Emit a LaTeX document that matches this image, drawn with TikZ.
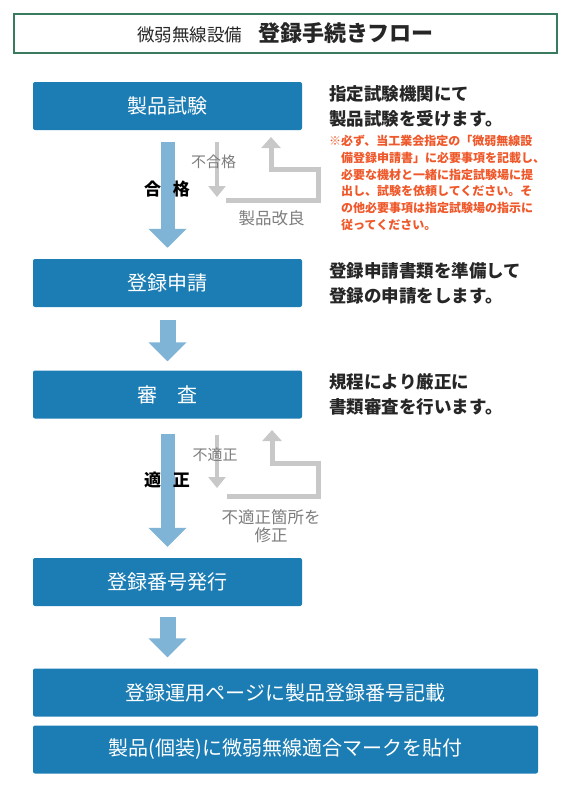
\documentclass[tikz,border=0pt]{standalone}
\usepackage{fontspec}
\newfontfamily\jp{Noto Sans CJK JP}
\usetikzlibrary{arrows.meta,positioning}
\definecolor{boxblue}{RGB}{27,125,180}
\definecolor{flowblue}{RGB}{128,180,214}
\definecolor{backgray}{RGB}{200,200,200}
\definecolor{lblgray}{RGB}{125,125,125}
\definecolor{notered}{RGB}{238,88,42}
\definecolor{titlegreen}{RGB}{58,122,94}
\tikzset{
  stepbox/.style={rectangle,rounded corners=2pt,fill=boxblue,text=white,minimum height=48pt,inner sep=0pt,font=\jp\fontsize{20}{20}\selectfont},
  desc/.style={inner sep=0pt,align=left,text=black!85,font=\jp\bfseries\fontsize{17.5}{25}\selectfont},
  chui/.style={inner sep=0pt,align=left,text=notered,font=\jp\bfseries\fontsize{12}{16.8}\selectfont},
  lbl/.style={inner sep=0pt,align=center,text=lblgray,font=\jp\fontsize{#1}{18}\selectfont},
  pass/.style={inner sep=0pt,text=black,font=\jp\bfseries\fontsize{17}{17}\selectfont},
  flow/.style={draw=flowblue,line width=#1,-{Triangle[length=19pt,width=37pt]}},
  back/.style={draw=backgray,line width=5pt,-{Triangle[length=11pt,width=19pt]}},
  down/.style={draw=backgray,line width=4pt,-{Triangle[length=11pt,width=17pt]}}
}
\begin{document}
\begin{tikzpicture}[x=1pt,y=-1pt]
\useasboundingbox (0,0) rectangle (566,788);
\node[draw=titlegreen,line width=1.2pt,minimum width=543pt,minimum height=39pt,inner sep=0pt,text=black!85,font=\jp] (title) at (285.5,33.5)
  {{\fontsize{17.5}{17.5}\selectfont 微弱無線設備}\hspace{16pt}{\bfseries\fontsize{22}{22}\selectfont 登録手続きフロー}};
\node[stepbox,minimum width=269pt] (shiken) at (167.5,106) {製品試験};
\node[stepbox,minimum width=269pt] (shinsei) at (167.5,283) {登録申請};
\node[stepbox,minimum width=269pt] (shinsa) at (167.5,394.5) {審　査};
\node[stepbox,minimum width=269pt] (bango) at (167.5,582) {登録番号発行};
\node[stepbox,minimum width=505pt] (keisai) at (285.5,692.5) {登録運用ページに製品登録番号記載};
\node[stepbox,minimum width=505pt] (mark) at (285.5,749.5) {製品(個装)に微弱無線適合マークを貼付};
\draw[flow=14pt,shorten <=12pt,shorten >=11pt] (shiken) -- (shinsei);
\draw[flow=16pt,shorten <=13pt,shorten >=9pt] (shinsei) -- (shinsa);
\draw[flow=14pt,shorten <=15pt,shorten >=11pt] (shinsa) -- (bango);
\draw[flow=16pt,shorten <=11pt,shorten >=11pt] (bango) -- (bango |- keisai.north);
\coordinate (d1s) at (217,142);
\coordinate (d1e) at (217,197);
\coordinate (r1a) at (226,200);
\coordinate (r1b) at (318,169);
\coordinate (r1c) at (271,137);
\draw[down] (d1s) -- (d1e);
\draw[back] (r1a) -| (r1b) -| (r1c);
\coordinate (d2s) at (217,435);
\coordinate (d2e) at (217,488);
\coordinate (r2a) at (227,496);
\coordinate (r2b) at (318,463);
\coordinate (r2c) at (272,430);
\draw[down] (d2s) -- (d2e);
\draw[back] (r2a) -| (r2b) -| (r2c);
\node[lbl=15] (ng1) at (213.5,162) {不合格};
\node[lbl=16.5] (kairyo) at (271.5,218) {製品改良};
\node[pass] (gokaku) at (167,189) {合\hspace{12pt}格};
\node[lbl=15] (ng2) at (215,455) {不適正};
\node[lbl=16.5] (shusei) at (271,526) {不適正箇所を\\修正};
\node[pass] (tekisei) at (167,480) {適\hspace{12pt}正};
\node[desc,anchor=west,right=27pt of shiken] (desc1) {指定試験機関にて\\製品試験を受けます。};
\node[desc,anchor=west,right=27pt of shinsei] (desc2) {登録申請書類を準備して\\登録の申請をします。};
\node[desc,anchor=west,right=27pt of shinsa] (desc3) {規程により厳正に\\書類審査を行います。};
\node[chui,anchor=west] (chui) at (329,183) {※必ず、当工業会指定の「微弱無線設\\
  \hspace*{1em}備登録申請書」に必要事項を記載し、\\
  \hspace*{1em}必要な機材と一緒に指定試験場に提\\
  \hspace*{1em}出し、試験を依頼してください。そ\\
  \hspace*{1em}の他必要事項は指定試験場の指示に\\
  \hspace*{1em}従ってください。};
\end{tikzpicture}
\end{document}
